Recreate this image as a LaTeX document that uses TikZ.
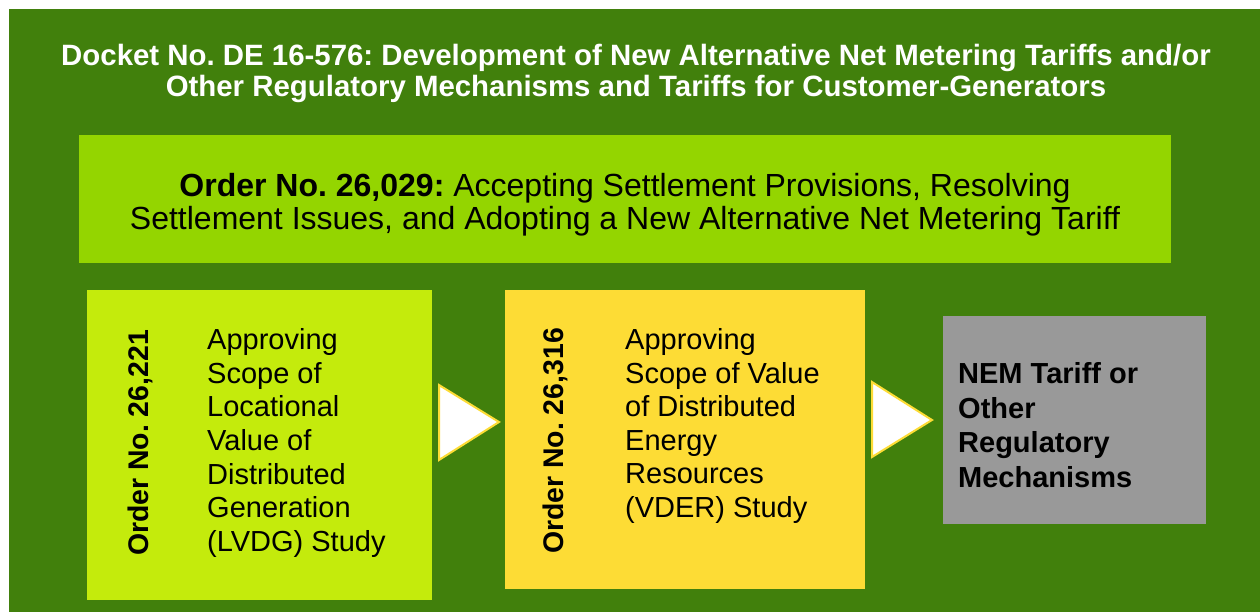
\documentclass[tikz,border=0pt]{standalone}
\usepackage{fontspec}
\setmainfont{Liberation Sans}
\usepackage{tikz}
\usetikzlibrary{positioning}
\frenchspacing

\definecolor{docketgreen}{HTML}{41800C}
\definecolor{ordergreen}{HTML}{94D500}
\definecolor{studylime}{HTML}{C4EB0C}
\definecolor{studygold}{HTML}{FDDC35}
\definecolor{tariffgrey}{HTML}{999999}

\begin{document}
\begin{tikzpicture}
    [x=1pt, y=-1pt,
    orderbox/.style={rectangle, anchor=north west, inner sep=0pt, align=center},
    ordertag/.style={rotate=90, inner sep=0pt, font=\fontsize{28.4}{34}\selectfont\bfseries},
    studytext/.style={anchor=west, inner sep=0pt, align=left, font=\fontsize{29}{33.6}\selectfont},
    chevron/.style={fill=white, draw=studygold, line width=2pt, line join=miter},]

    %Background
    \useasboundingbox (0,0) rectangle (1260,612);
    \fill[white] (0,0) rectangle (1260,612);
    \fill[docketgreen] (9,9) rectangle (1260,612);

    %Title
    \node(docket)[align=center, text=white, font=\fontsize{29.4}{31}\selectfont\bfseries] at (636,73)
        {Docket No. DE 16-576: Development of New Alternative Net Metering Tariffs and/or\\
         Other Regulatory Mechanisms and Tariffs for Customer-Generators};

    %Boxes
    \node(order029)[orderbox, fill=ordergreen, minimum width=1092pt, minimum height=128pt] at (79,135) {};
    \node(order221)[orderbox, fill=studylime, minimum width=345pt, minimum height=310pt] at (87,290) {};
    \node(order316)[orderbox, fill=studygold, minimum width=360pt, minimum height=299pt] at (505,290) {};
    \node(nemtariff)[orderbox, fill=tariffgrey, minimum width=263pt, minimum height=208pt] at (943,316) {};

    %Labels
    \node(order029text)[align=center, font=\fontsize{32}{33}\selectfont] at (625,205)
        {\textbf{Order No. 26,029:} Accepting Settlement Provisions, Resolving\\
         Settlement Issues, and Adopting a New Alternative Net Metering Tariff};
    \node(tag221)[ordertag] at (140,443) {Order No. 26,221};
    \node(tag316)[ordertag] at (555,441) {Order No. 26,316};
    \node(lvdg)[studytext] at (207,443)
        {Approving\\Scope of\\Locational\\Value of\\Distributed\\Generation\\(LVDG) Study};
    \node(vder)[studytext] at (625,426)
        {Approving\\Scope of Value\\of Distributed\\Energy\\Resources\\(VDER) Study};
    \node(nem)[studytext, font=\fontsize{29}{34.5}\selectfont\bfseries] at (958,425)
        {NEM Tariff or\\Other\\Regulatory\\Mechanisms};

    %Chevrons
    \draw[chevron] (439,385) -- (499,422) -- (439,460) -- cycle;
    \draw[chevron] (872,382) -- (932,420) -- (872,457) -- cycle;

\end{tikzpicture}
\end{document}
